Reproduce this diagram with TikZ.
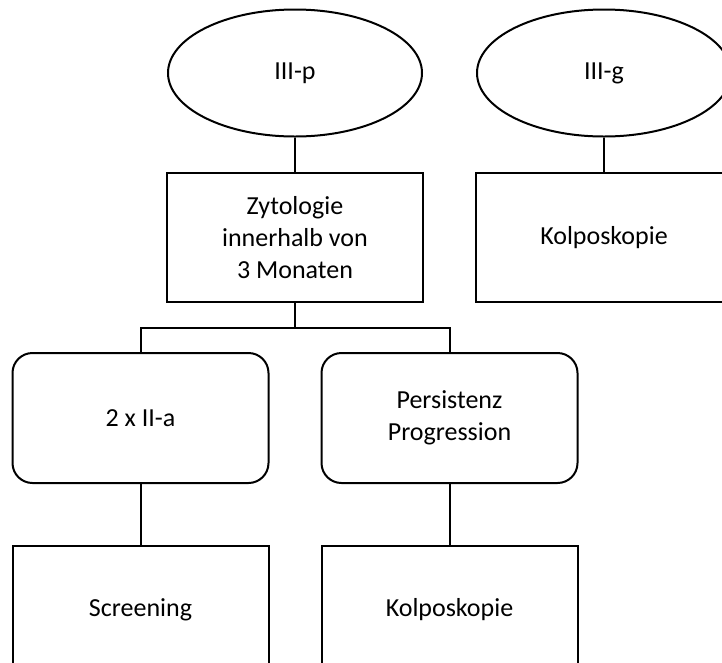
\documentclass[tikz,border=0pt]{standalone}
\usepackage{fontspec}
\setmainfont{Carlito}
\usetikzlibrary{shapes.geometric}

\begin{document}
\begin{tikzpicture}[x=1pt,y=-1pt,
  every node/.style={font=\fontsize{26}{32}\selectfont, align=center},
  oval/.style={draw, ellipse, line width=2pt, minimum width=254pt, minimum height=127pt, inner sep=0pt},
  box/.style={draw, rectangle, line width=2pt, minimum width=256pt, minimum height=129pt, inner sep=0pt},
  rbox/.style={box, rounded corners=20pt, minimum height=130pt}]
\useasboundingbox (0,0) rectangle (722,662);
\clip (0,0) rectangle (722,662);
\node[oval] (1) at (295,73) {III-p};
\node[oval] (2) at (604,73) {III-g};
\node[box] (3) at (295,237.5) {Zytologie\\innerhalb von\\3 Monaten};
\node[box] (4) at (604,237.5) {Kolposkopie};
\node[rbox] (5) at (140.5,418) {2 x II-a};
\node[rbox] (6) at (449.5,418) {Persistenz\\Progression};
\node[box] (7) at (140.5,610) {Screening};
\node[box] (8) at (449.5,610) {Kolposkopie};
\coordinate (j) at (295,328);
\path[draw,line width=2pt,-] (1) -- (3);
\path[draw,line width=2pt,-] (2) -- (4);
\path[draw,line width=2pt,-] (3) -- (j);
\path[draw,line width=2pt,-] (j) -| (5);
\path[draw,line width=2pt,-] (j) -| (6);
\path[draw,line width=2pt,-] (5) -- (7);
\path[draw,line width=2pt,-] (6) -- (8);
\end{tikzpicture}
\end{document}
